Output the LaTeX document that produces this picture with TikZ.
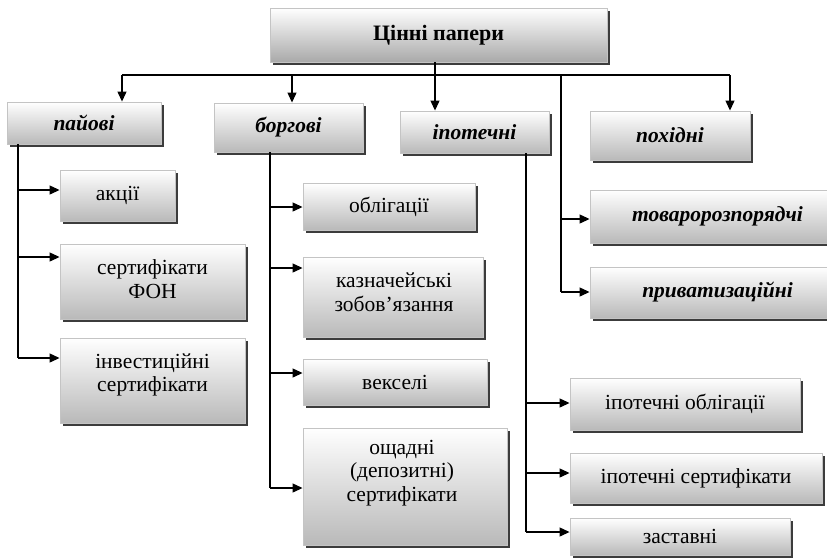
\documentclass[tikz,border=0pt]{standalone}
\usepackage{fontspec}
\setmainfont{Liberation Serif}
\usetikzlibrary{arrows.meta,shadows}

\definecolor{celledge}{HTML}{C4C4C4}
\definecolor{celllow}{HTML}{B9B9B9}
\definecolor{toplow}{HTML}{A9A9A9}
\definecolor{shade}{HTML}{3C3C3C}

\tikzset{
  cell/.style={draw=celledge, line width=0.9pt, inner sep=0pt,
    top color=white, bottom color=celllow,
    drop shadow={shadow xshift=3pt, shadow yshift=-3pt, fill=shade, opacity=1},
    font=\fontsize{21.5}{24}\selectfont, align=center},
  headcell/.style={cell, font=\fontsize{21.5}{24}\selectfont\bfseries\itshape},
  rootcell/.style={cell, bottom color=toplow, font=\fontsize{22}{24}\selectfont\bfseries},
  celltext/.style={inner sep=0pt, align=center, font=\fontsize{21.5}{23.5}\selectfont},
  wire/.style={line width=1.2pt, black},
  arrow/.style={wire, -{Triangle[length=10pt,width=9pt]}}
}

\begin{document}
\begin{tikzpicture}[x=1pt, y=-1pt]
\useasboundingbox (0,0) rectangle (827,558);

% root
\node[rootcell, minimum width=337pt, minimum height=54pt] (root) at (438.5,35) {Цінні папери};

% first level
\node[headcell, minimum width=154pt, minimum height=42pt] (pay)   at (84,123)    {пайові};
\node[headcell, minimum width=149pt, minimum height=49pt] (borg)  at (288.5,127.5) {боргові};
\node[headcell, minimum width=149pt, minimum height=42pt] (ipot)  at (474.5,132) {іпотечні};
\node[headcell, minimum width=160pt, minimum height=49pt] (pokh)  at (670,135.5) {похідні};
\node[headcell, minimum width=255pt, minimum height=53pt] (tovar) at (717.5,216.5) {товаророзпорядчі};
\node[headcell, minimum width=255pt, minimum height=51pt] (pryv)  at (717.5,292.5) {приватизаційні};

% shares branch
\node[cell, minimum width=115pt, minimum height=51pt] (akc)  at (117.5,195.5) {акції};
\node[cell, minimum width=185pt, minimum height=75pt] (sfon) at (152.5,281.5) {};
\node[celltext] (sfont) at (152.5,279) {сертифікати\\ФОН};
\node[cell, minimum width=185pt, minimum height=85pt] (inv)  at (152.5,380.5) {};
\node[celltext] (invt) at (152.5,375) {інвестиційні\\сертифікати};

% debt branch
\node[cell, minimum width=172pt, minimum height=47pt] (obl)  at (389,206.5) {облігації};
\node[cell, minimum width=180pt, minimum height=80pt] (kazn) at (393,297) {};
\node[celltext] (kaznt) at (394,292) {казначейські\\зобов’язання};
\node[cell, minimum width=184pt, minimum height=46pt] (veks) at (395,382) {векселі};
\node[cell, minimum width=204pt, minimum height=117pt] (ocsh) at (405,486.5) {};
\node[celltext] (ocsht) at (402,473) {ощадні\\(депозитні)\\сертифікати};

% mortgage branch
\node[cell, minimum width=230pt, minimum height=52pt] (iobl) at (685,404) {іпотечні облігації};
\node[cell, minimum width=252pt, minimum height=50pt] (iser) at (696,478) {іпотечні сертифікати};
\node[cell, minimum width=220pt, minimum height=37pt] (zast) at (680,536.5) {заставні};

% top bus
\coordinate (busW) at (122,75);
\coordinate (busB) at (292,75);
\coordinate (busM) at (435,75);
\coordinate (busR) at (561,75);
\coordinate (busE) at (730,75);
\draw[wire] (busW) -- (busE);
\draw[arrow] (busW) -- (busW |- pay.north);
\draw[arrow] (busB) -- (busB |- borg.north);
\draw[arrow] (root.south -| busM) -- (busM |- ipot.north);
\draw[arrow] (busE) -- (busE |- pokh.north);

% bus drop to the right-hand column
\coordinate (r1) at (561,219);
\coordinate (r2) at (561,292);
\draw[wire] (busR) -- (r2);
\draw[arrow] (r1) -- (r1 -| tovar.west);
\draw[arrow] (r2) -- (r2 -| pryv.west);

% shares trunk
\coordinate (p0) at (18,0);
\coordinate (p1) at (18,190);
\coordinate (p2) at (18,257);
\coordinate (p3) at (18,358);
\draw[wire] (pay.south -| p0) -- (p3);
\draw[arrow] (p1) -- (p1 -| akc.west);
\draw[arrow] (p2) -- (p2 -| sfon.west);
\draw[arrow] (p3) -- (p3 -| inv.west);

% debt trunk
\coordinate (b0) at (270,0);
\coordinate (b1) at (270,207);
\coordinate (b2) at (270,268);
\coordinate (b3) at (270,373);
\coordinate (b4) at (270,488);
\draw[wire] (borg.south -| b0) -- (b4);
\draw[arrow] (b1) -- (b1 -| obl.west);
\draw[arrow] (b2) -- (b2 -| kazn.west);
\draw[arrow] (b3) -- (b3 -| veks.west);
\draw[arrow] (b4) -- (b4 -| ocsh.west);

% mortgage trunk
\coordinate (m0) at (526,0);
\coordinate (m1) at (526,403);
\coordinate (m2) at (526,473);
\coordinate (m3) at (526,532);
\draw[wire] (ipot.south -| m0) -- (m3);
\draw[arrow] (m1) -- (m1 -| iobl.west);
\draw[arrow] (m2) -- (m2 -| iser.west);
\draw[arrow] (m3) -- (m3 -| zast.west);
\end{tikzpicture}
\end{document}
